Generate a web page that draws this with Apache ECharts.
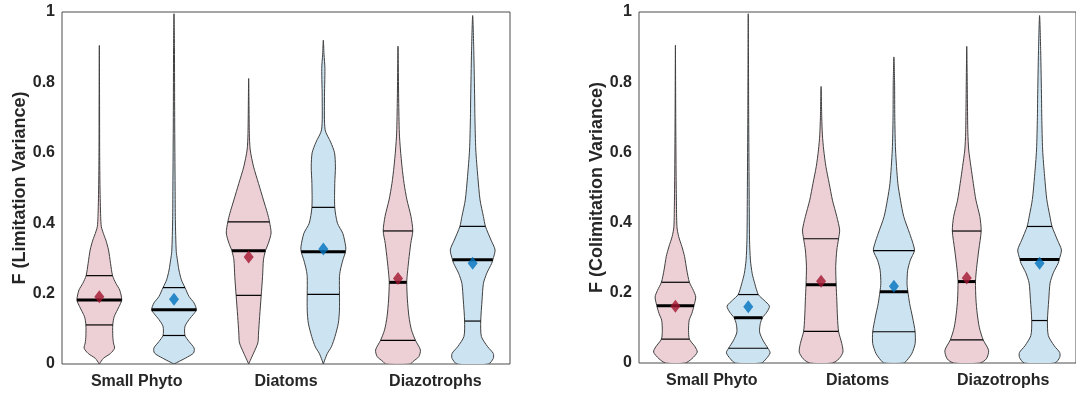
<!DOCTYPE html>
<html>
<head>
<meta charset="utf-8">
<title>Limitation and colimitation variance</title>
<script src="https://cdn.jsdelivr.net/npm/echarts@6/dist/echarts.min.js"></script>
<style>
  html, body { margin: 0; padding: 0; background: #fff; }
  #chart { width: 1076px; height: 393px; }
</style>
</head>
<body>
<div id="chart"></div>
<script>
// Groups on the x axis; each group holds a red and a blue violin
const categories = ['Small Phyto', 'Diatoms', 'Diazotrophs'];
const positions = [1, 2, 3, 4, 5, 6];

// Density profiles: [F value, density relative to the violin's peak]
// Panel 1: F (Limitation Variance)
const limSmallPhytoRed = [[0,0],[0.016,0.18],[0.03,0.5],[0.045,0.68],[0.06,0.63],[0.08,0.6],[0.111,0.6],[0.134,0.66],[0.163,0.88],[0.182,1.0],[0.21,0.91],[0.229,0.74],[0.251,0.59],[0.286,0.5],[0.324,0.41],[0.352,0.29],[0.371,0.18],[0.39,0.09],[0.419,0.06],[0.5,0.03],[0.6,0.015],[0.75,0.01],[0.905,0]];
const limSmallPhytoBlue = [[0,0],[0.017,0.52],[0.031,0.87],[0.045,0.9],[0.064,0.67],[0.081,0.49],[0.107,0.49],[0.126,0.67],[0.144,0.9],[0.154,1.0],[0.173,0.9],[0.192,0.67],[0.217,0.49],[0.239,0.33],[0.267,0.22],[0.296,0.15],[0.32,0.1],[0.41,0.06],[0.5,0.05],[0.7,0.03],[0.9,0.02],[0.995,0]];
const limDiatomsRed = [[0,0],[0.01,0.07],[0.031,0.22],[0.06,0.41],[0.088,0.44],[0.135,0.49],[0.195,0.56],[0.248,0.62],[0.296,0.66],[0.322,0.75],[0.343,0.88],[0.372,1.0],[0.404,0.93],[0.428,0.84],[0.466,0.66],[0.513,0.44],[0.56,0.22],[0.608,0.07],[0.655,0.03],[0.811,0]];
const limDiatomsBlue = [[0,0],[0.011,0.06],[0.03,0.18],[0.049,0.36],[0.078,0.52],[0.116,0.67],[0.153,0.72],[0.198,0.72],[0.248,0.72],[0.267,0.76],[0.295,0.87],[0.319,0.99],[0.333,1.0],[0.371,0.87],[0.4,0.63],[0.445,0.51],[0.513,0.51],[0.56,0.54],[0.6,0.5],[0.63,0.33],[0.665,0.08],[0.75,0.05],[0.84,0.07],[0.88,0.03],[0.92,0]];
const limDiazotrophsRed = [[0,0.55],[0.007,0.67],[0.021,0.93],[0.04,1.0],[0.067,0.78],[0.097,0.6],[0.134,0.49],[0.182,0.42],[0.232,0.39],[0.258,0.42],[0.295,0.48],[0.343,0.57],[0.378,0.66],[0.419,0.58],[0.466,0.4],[0.513,0.27],[0.56,0.18],[0.608,0.11],[0.656,0.06],[0.75,0.03],[0.903,0]];
const limDiazotrophsBlue = [[0,0.7],[0.016,0.92],[0.03,0.92],[0.049,0.67],[0.078,0.39],[0.122,0.36],[0.182,0.42],[0.229,0.48],[0.258,0.63],[0.286,0.85],[0.296,0.9],[0.324,1.0],[0.352,0.82],[0.391,0.57],[0.419,0.48],[0.466,0.33],[0.532,0.23],[0.608,0.14],[0.7,0.1],[0.75,0.09],[0.89,0.05],[0.99,0]];

// Panel 2: F (Colimitation Variance)
const colSmallPhytoRed = [[0,0.45],[0.012,0.75],[0.031,1.0],[0.046,0.9],[0.068,0.64],[0.093,0.6],[0.122,0.63],[0.141,0.75],[0.163,0.85],[0.188,0.93],[0.207,0.82],[0.23,0.64],[0.265,0.52],[0.303,0.42],[0.331,0.3],[0.36,0.15],[0.388,0.07],[0.464,0.045],[0.55,0.03],[0.7,0.015],[0.905,0]];
const colSmallPhytoBlue = [[0,0.6],[0.012,0.82],[0.029,1.0],[0.042,0.9],[0.065,0.67],[0.088,0.52],[0.112,0.55],[0.129,0.65],[0.145,0.85],[0.162,0.97],[0.179,0.72],[0.195,0.46],[0.226,0.3],[0.255,0.18],[0.293,0.1],[0.35,0.06],[0.5,0.04],[0.7,0.02],[0.995,0]];
const colDiatomsRed = [[0,0.52],[0.012,0.82],[0.031,1.0],[0.055,0.95],[0.09,0.8],[0.131,0.75],[0.179,0.72],[0.223,0.69],[0.274,0.67],[0.322,0.72],[0.354,0.8],[0.379,0.85],[0.417,0.72],[0.464,0.52],[0.512,0.37],[0.56,0.22],[0.607,0.12],[0.65,0.06],[0.7,0.03],[0.788,0]];
const colDiatomsBlue = [[0,0.45],[0.008,0.6],[0.027,0.82],[0.055,0.97],[0.089,0.97],[0.131,0.85],[0.169,0.72],[0.203,0.64],[0.226,0.6],[0.264,0.63],[0.293,0.75],[0.32,0.94],[0.341,0.87],[0.369,0.72],[0.417,0.45],[0.464,0.3],[0.512,0.18],[0.607,0.075],[0.7,0.04],[0.8,0.03],[0.872,0]];
const colDiazotrophsRed = [[0,0.6],[0.012,0.9],[0.036,1.0],[0.066,0.75],[0.1,0.58],[0.14,0.48],[0.182,0.42],[0.232,0.4],[0.27,0.45],[0.322,0.55],[0.376,0.66],[0.417,0.6],[0.464,0.42],[0.512,0.3],[0.56,0.19],[0.607,0.09],[0.656,0.05],[0.75,0.03],[0.902,0]];
const colDiazotrophsBlue = [[0,0.7],[0.016,0.92],[0.03,0.92],[0.049,0.67],[0.078,0.4],[0.121,0.36],[0.18,0.42],[0.228,0.48],[0.257,0.63],[0.284,0.85],[0.295,0.9],[0.322,1.0],[0.35,0.82],[0.389,0.57],[0.419,0.47],[0.466,0.33],[0.532,0.23],[0.607,0.14],[0.7,0.1],[0.75,0.09],[0.89,0.05],[0.99,0]];

// Summary statistics per violin (same order as positions)
const limQ1 = [0.111, 0.081, 0.195, 0.198, 0.067, 0.122];
const limMedian = [0.182, 0.154, 0.322, 0.319, 0.232, 0.296];
const limQ3 = [0.251, 0.217, 0.404, 0.445, 0.378, 0.391];
const limMean = [0.191, 0.184, 0.304, 0.327, 0.243, 0.286];

const colQ1 = [0.068, 0.042, 0.090, 0.089, 0.066, 0.121];
const colMedian = [0.163, 0.129, 0.223, 0.203, 0.232, 0.295];
const colQ3 = [0.230, 0.195, 0.354, 0.320, 0.376, 0.389];
const colMean = [0.162, 0.160, 0.233, 0.219, 0.242, 0.284];

const yTicks = [0, 0.2, 0.4, 0.6, 0.8, 1];

const limProfiles = [limSmallPhytoRed, limSmallPhytoBlue, limDiatomsRed, limDiatomsBlue, limDiazotrophsRed, limDiazotrophsBlue];
const colProfiles = [colSmallPhytoRed, colSmallPhytoBlue, colDiatomsRed, colDiatomsBlue, colDiazotrophsRed, colDiazotrophsBlue];

const HALF_WIDTH = 0.3;           // violin half-width at peak density, in x units
const FILL = ['#ECD0D5', '#CCE3F2'];
const MARK = ['#A2142F', '#0072BD'];
const EDGE = '#404040';
const TEXT = '#262626';
const FONT = '"Liberation Sans", Arial, Helvetica, sans-serif';

function widthAt(profile, v) {
  for (let k = 1; k < profile.length; k++) {
    const a = profile[k - 1], b = profile[k];
    if (v <= b[0]) {
      const t = (v - a[0]) / (b[0] - a[0]);
      return a[1] + t * (b[1] - a[1]);
    }
  }
  return 0;
}

function violinSeries(panel, profiles, q1, med, q3) {
  return {
    type: 'custom',
    xAxisIndex: panel * 2 + 1,
    yAxisIndex: panel,
    clip: true,
    z: 2,
    data: positions.map((p, i) => [p, med[i]]),
    renderItem: function (params, api) {
      const i = params.dataIndex;
      const pos = api.value(0);
      const prof = profiles[i];
      const right = prof.map(d => api.coord([pos + d[1] * HALF_WIDTH, d[0]]));
      const left = prof.slice(0, -1).reverse().map(d => api.coord([pos - d[1] * HALF_WIDTH, d[0]]));
      const children = [{
        type: 'polygon',
        shape: { points: right.concat(left), smooth: 0.25 },
        style: { fill: FILL[i % 2], stroke: EDGE, lineWidth: 1 }
      }];
      const addLine = (v, lw) => {
        const w = widthAt(prof, v) * HALF_WIDTH;
        const a = api.coord([pos - w, v]);
        const b = api.coord([pos + w, v]);
        children.push({
          type: 'line',
          shape: { x1: a[0], y1: a[1], x2: b[0], y2: b[1] },
          style: { stroke: '#000', lineWidth: lw }
        });
      };
      addLine(q1[i], 1.2);
      addLine(q3[i], 1.2);
      addLine(med[i], 3);
      return { type: 'group', children: children };
    }
  };
}

function meanSeries(panel, means) {
  return {
    type: 'scatter',
    xAxisIndex: panel * 2 + 1,
    yAxisIndex: panel,
    z: 5,
    symbol: 'diamond',
    symbolSize: [10, 13],
    data: positions.map((p, i) => ({ value: [p, means[i]], itemStyle: { color: MARK[i % 2] } }))
  };
}

const grids = [
  { left: 62, top: 12, width: 448, height: 352 },
  { left: 639, top: 12, width: 448, height: 351 }
];

const xAxes = [];
const yAxes = [];
const names = ['F (Limitation Variance)', 'F (Colimitation Variance)'];
grids.forEach((g, k) => {
  xAxes.push({
    type: 'category', gridIndex: k, data: categories, position: 'bottom',
    axisLine: { show: false }, axisTick: { show: false }, splitLine: { show: false },
    axisLabel: { fontSize: 16, fontWeight: 'bold', color: TEXT, fontFamily: FONT, margin: 10 }
  });
  xAxes.push({
    type: 'value', gridIndex: k, min: 0.5, max: 6.5, show: false
  });
  yAxes.push({
    type: 'value', gridIndex: k, min: yTicks[0], max: yTicks[yTicks.length - 1], interval: 0.2,
    axisLine: { show: false }, axisTick: { show: false }, splitLine: { show: false },
    axisLabel: { fontSize: 16, fontWeight: 'bold', color: TEXT, fontFamily: FONT, margin: 7,
      formatter: v => String(Math.round(v * 10) / 10) },
    name: names[k], nameLocation: 'middle', nameGap: 33,
    nameTextStyle: { fontSize: 18, fontWeight: 'bold', color: TEXT, fontFamily: FONT }
  });
});

const chart = echarts.init(document.getElementById('chart'), null, { renderer: 'canvas' });
chart.setOption({
  backgroundColor: '#fff',
  animation: false,
  grid: grids.map(g => Object.assign({ show: true, borderColor: '#4d4d4d', borderWidth: 1, backgroundColor: 'transparent' }, g)),
  xAxis: xAxes,
  yAxis: yAxes,
  series: [
    violinSeries(0, limProfiles, limQ1, limMedian, limQ3),
    meanSeries(0, limMean),
    violinSeries(1, colProfiles, colQ1, colMedian, colQ3),
    meanSeries(1, colMean)
  ]
});
</script>
</body>
</html>
